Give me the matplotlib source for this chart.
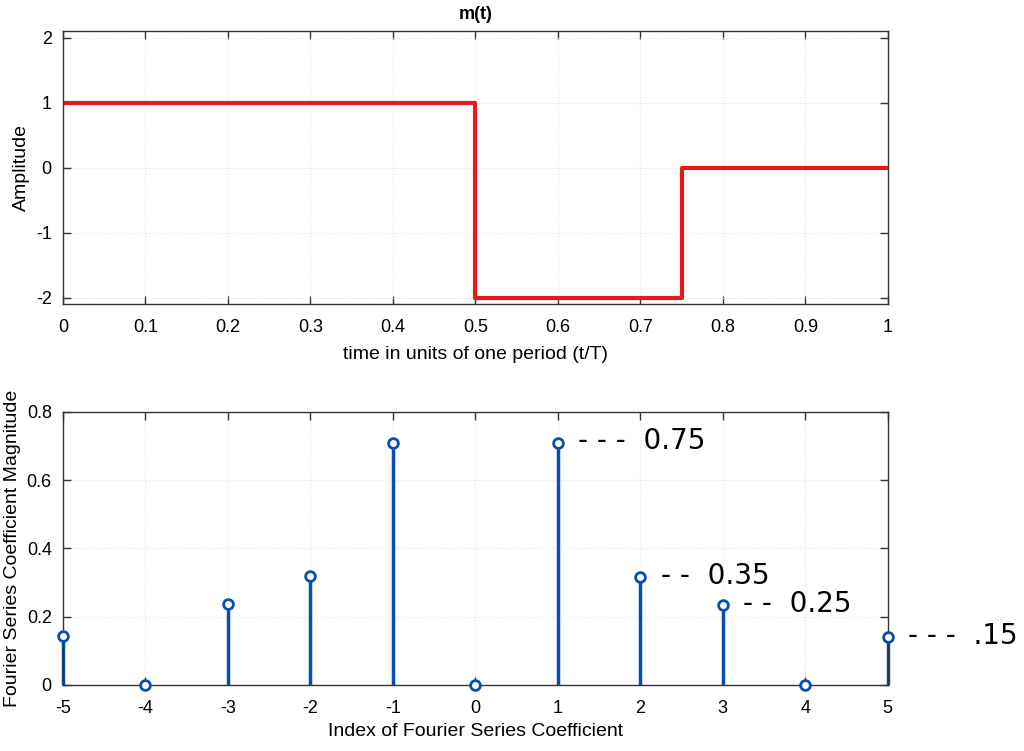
import matplotlib
matplotlib.use("Agg")
import matplotlib.pyplot as plt
import numpy as np

plt.rcParams['font.family'] = ['Liberation Sans', 'DejaVu Sans']
plt.rcParams['axes.unicode_minus'] = False

# Top signal m(t): piecewise constant
t_edges = [0.0, 0.5, 0.75, 1.0]
m_levels = [1.0, -2.0, 0.0]

# Fourier coefficient magnitudes
k_idx = [-5, -4, -3, -2, -1, 0, 1, 2, 3, 4, 5]
mag = [0.145, 0.0, 0.237, 0.318, 0.71, 0.0, 0.71, 0.315, 0.233, 0.0, 0.14]

# handwritten annotations
ann_k = [1, 2, 3, 5]
ann_text = ["- - -  0.75", "- -  0.35", "- -  0.25", "- - -  .15"]

fig = plt.figure(figsize=(10.24, 7.51), dpi=100)
ax1 = fig.add_axes([0.0615, 0.595, 0.8055, 0.3637])
ax2 = fig.add_axes([0.0615, 0.0879, 0.8055, 0.3635])

# top plot
ts = []
ms = []
for i, lv in enumerate(m_levels):
    ts += [t_edges[i], t_edges[i + 1]]
    ms += [lv, lv]
ax1.plot(ts, ms, color='#e41a1c', lw=3)
ax1.set_xlim(0, 1)
ax1.set_ylim(-2.1, 2.1)
ax1.set_xticks(np.arange(0, 1.01, 0.1))
ax1.set_xticklabels(['0', '0.1', '0.2', '0.3', '0.4', '0.5', '0.6', '0.7', '0.8', '0.9', '1'])
ax1.set_yticks([-2, -1, 0, 1, 2])
ax1.set_title('m(t)', fontsize=13, fontweight='bold', pad=9)
ax1.set_xlabel('time in units of one period (t/T)', fontsize=14, labelpad=7)
ax1.set_ylabel('Amplitude', fontsize=14, labelpad=4)

# bottom stem
ml, sl, bl = ax2.stem(k_idx, mag, basefmt=' ')
plt.setp(sl, color='#0a4fb0', lw=2.5)
plt.setp(ml, color='#0a4fb0', marker='o', markersize=7, markerfacecolor='white',
         markeredgewidth=2, clip_on=False, zorder=5)
sl.set_clip_on(False)
ax2.set_xlim(-5, 5)
ax2.set_ylim(0, 0.8)
ax2.set_xticks(range(-5, 6))
ax2.set_yticks([0, 0.2, 0.4, 0.6, 0.8])
ax2.set_yticklabels(['0', '0.2', '0.4', '0.6', '0.8'])
ax2.set_xlabel('Index of Fourier Series Coefficient', fontsize=14, labelpad=4)
ax2.set_ylabel('Fourier Series Coefficient Magnitude', fontsize=14, labelpad=4)

for k, txt in zip(ann_k, ann_text):
    y = mag[k_idx.index(k)]
    ax2.text(k + 0.25, y + 0.005, txt, fontsize=20, va='center', ha='left',
             color='black', family=['DejaVu Sans'], clip_on=False)

for ax in (ax1, ax2):
    ax.tick_params(direction='in', top=True, right=True, labelsize=13, length=6,
                   width=1, color='#333333', pad=8)
    ax.tick_params(axis='x', pad=11)
    ax.grid(True, color='#e6e6e6', linestyle=':', lw=0.8)
    for s in ax.spines.values():
        s.set_color('#333333')
        s.set_linewidth(1)

fig.savefig('out.png', dpi=100)
